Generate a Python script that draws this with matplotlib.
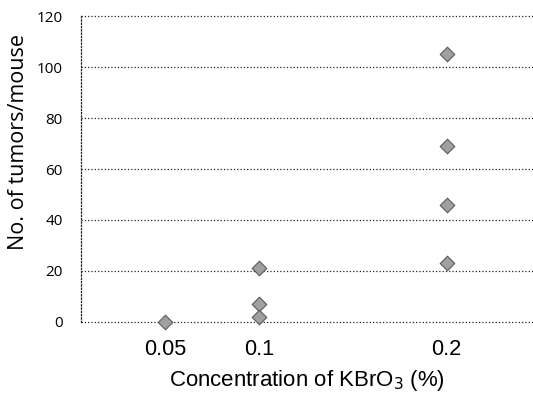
import matplotlib
matplotlib.use('Agg')
import matplotlib.pyplot as plt

# data
conc_low = [0.05]
tumors_low = [0]
conc_mid = [0.1, 0.1, 0.1]
tumors_mid = [21, 7, 2]
conc_high = [0.2, 0.2, 0.2, 0.2]
tumors_high = [105, 69, 46, 23]

x_ticks = [0.05, 0.1, 0.2]
x_tick_labels = ['0.05', '0.1', '0.2']
y_ticks = [0, 20, 40, 60, 80, 100, 120]

fig = plt.figure(figsize=(5.33, 3.94), dpi=100)
ax = fig.add_axes([0.152, 0.183, 0.848, 0.776])

xs = conc_low + conc_mid + conc_high
ys = tumors_low + tumors_mid + tumors_high
ax.scatter(xs, ys, marker='D', s=55, color='#a0a0a0', edgecolors='#5a5a5a',
           linewidths=0.8, zorder=3, clip_on=False)

ax.set_xlim(0.0051, 0.246)
ax.set_ylim(0, 120)

# dotted horizontal gridlines
for y in y_ticks:
    ax.axhline(y, color='#222222', linestyle=':', linewidth=0.9, zorder=1,
               clip_on=False)

for side in ['top', 'right', 'bottom']:
    ax.spines[side].set_visible(False)
ax.spines['left'].set_linestyle(':')
ax.spines['left'].set_linewidth(0.9)
ax.spines['left'].set_color('#222222')

ax.set_yticks(y_ticks)
ax.set_yticklabels([str(v) for v in y_ticks], fontfamily='Open Sans', fontsize=11)
ax.set_xticks(x_ticks)
ax.set_xticklabels(x_tick_labels, fontfamily='Liberation Sans', fontsize=15.7)
ax.tick_params(axis='x', length=0, pad=12)
ax.tick_params(axis='y', length=0, pad=13)

ax.set_ylabel('No. of tumors/mouse', fontfamily='Open Sans', fontsize=15.5)
ax.yaxis.set_label_coords(-0.116, 0.588)
ax.set_xlabel('Concentration of KBrO$_3$ (%)', fontfamily='Liberation Sans',
              fontsize=16, labelpad=6)

fig.savefig('out.png', dpi=100)
